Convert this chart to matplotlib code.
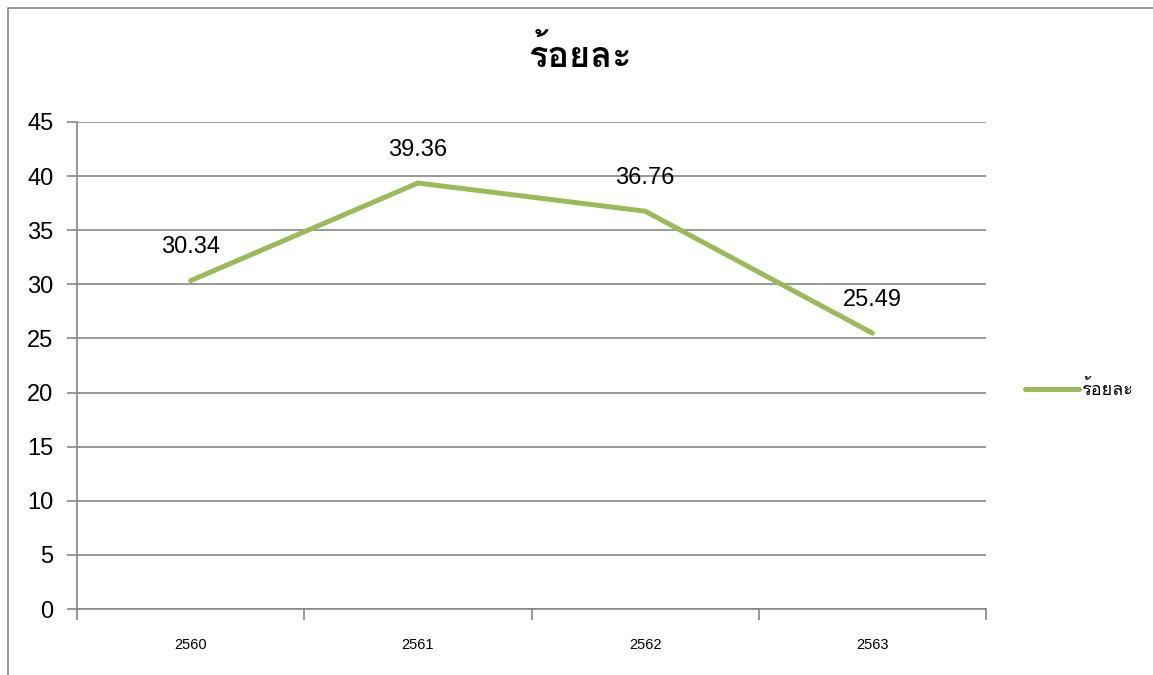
import matplotlib
matplotlib.use('Agg')
import matplotlib.pyplot as plt
from matplotlib import font_manager
from matplotlib.ft2font import FT2Font
import numpy as np

years = ['2560', '2561', '2562', '2563']
percent = [30.34, 39.36, 36.76, 25.49]
series_name = 'ร้อยละ'
title = 'ร้อยละ'
y_ticks = [0, 5, 10, 15, 20, 25, 30, 35, 40, 45]


def thai_font():
    # look for any installed family that has Thai glyphs
    for f in font_manager.fontManager.ttflist:
        try:
            cmap = FT2Font(f.fname).get_charmap()
        except Exception:
            continue
        if 0x0E23 in cmap and 0x0E49 in cmap:
            return f.name
    return 'DejaVu Sans'


def main():
    tf = thai_font()
    plt.rcParams['font.family'] = [tf, 'DejaVu Sans']
    num_font = ['Liberation Sans', 'DejaVu Sans']
    fig = plt.figure(figsize=(11.53, 6.75), dpi=100)
    ax = fig.add_axes([77 / 1153, 1 - 609 / 675, 909 / 1153, 487 / 675])

    x = np.arange(len(years))
    ax.plot(x, percent, color='#9BBB59', lw=3.6, solid_capstyle='round',
            label=series_name, zorder=3)
    for xi, v in zip(x, percent):
        ax.annotate(f'{v:.2f}', (xi, v), xytext=(0, 24), textcoords='offset points',
                    ha='center', va='center', fontsize=17, family=num_font)

    ax.set_xlim(-0.5, len(years) - 0.5)
    ax.set_ylim(0, 45)
    ax.set_yticks(y_ticks)
    ax.set_yticklabels([str(t) for t in y_ticks], fontsize=17, family=num_font)
    ax.yaxis.grid(True, color='#868686', lw=1.2)
    ax.set_axisbelow(True)
    ax.set_xticks(x)
    ax.set_xticklabels(years, fontsize=10.5, family=['Liberation Sans', 'DejaVu Sans'])
    ax.set_xticks(np.arange(len(years) + 1) - 0.5, minor=True)
    ax.tick_params(axis='x', which='major', length=0, pad=21)
    ax.tick_params(axis='x', which='minor', length=8, color='#868686', width=1.2)
    ax.tick_params(axis='y', length=7, color='#868686', width=1.2, pad=10)
    for s in ['top', 'right']:
        ax.spines[s].set_visible(False)
    for s in ['left', 'bottom']:
        ax.spines[s].set_color('#868686')
        ax.spines[s].set_linewidth(1.2)

    fig.text(0.503, 1 - 55 / 675, title, ha='center', va='center',
             fontsize=26, fontweight='bold')
    ax.legend(loc='center left', bbox_to_anchor=(1.025, 0.45), frameon=False,
              handlelength=3.0, handletextpad=0.1, fontsize=13)

    # outer chart border (top and left visible)
    fig.add_artist(plt.Line2D([8 / 1153, 8 / 1153, 1], [0, 1 - 8 / 675, 1 - 8 / 675],
                              transform=fig.transFigure, color='#868686', lw=1.2))
    plt.savefig('out.png')
    return


if __name__ == '__main__':
    main()
